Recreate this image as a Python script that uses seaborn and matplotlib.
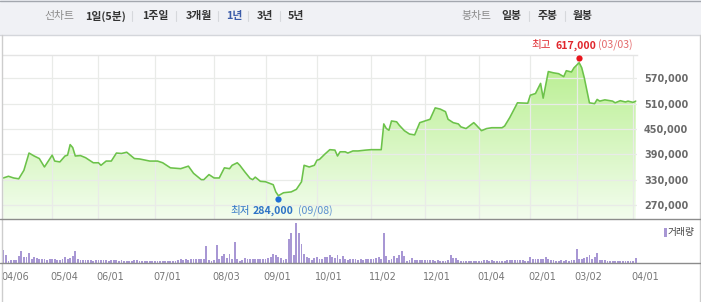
import numpy as np
import matplotlib
matplotlib.use("Agg")
import matplotlib.pyplot as plt
import seaborn as sns
from matplotlib.colors import LinearSegmentedColormap
from matplotlib.patches import Rectangle

# ---------------- data ----------------
# trading-day index -> closing price (KRW)
price_day = [0, 2, 4, 6, 8, 10, 12, 14, 16, 19, 20, 22, 24, 25, 26, 27, 28, 30, 32, 35,
             37, 38, 40, 42, 44, 46, 48, 51, 53, 57, 60, 62, 64, 65, 69, 72, 74, 77, 78, 80,
             82, 84, 86, 88, 89, 91, 92, 94, 96, 97, 98, 100, 102, 105, 106, 107, 109, 112, 114, 116,
             117, 119, 121, 122, 123, 125, 127, 129, 130, 131, 133, 134, 136, 138, 141, 143, 147, 148, 149, 150,
             151, 153, 154, 156, 158, 160, 162, 164, 166, 168, 170, 172, 173, 175, 177, 178, 180, 183, 184, 186,
             188, 190, 194, 195, 197, 200, 204, 205, 207, 209, 210, 212, 214, 216, 218, 219, 221, 222, 224, 225,
             226, 228, 230, 231, 232, 234, 237, 238, 240, 242, 243, 245, 246]
price_val = [334000, 338000, 334000, 332000, 352000, 393000, 386000, 380000, 360000, 388000,
             374000, 372000, 386000, 388000, 413000, 406000, 386000, 387000, 382000, 370000,
             370000, 364000, 374000, 374000, 393000, 392000, 395000, 380000, 379000, 374000,
             374000, 370000, 362000, 358000, 356000, 362000, 345000, 330000, 330000, 342000,
             334000, 334000, 358000, 356000, 364000, 370000, 364000, 348000, 333000, 330000,
             336000, 326000, 325000, 318000, 301000, 292000, 299000, 301000, 307000, 325000,
             364000, 360000, 364000, 376000, 378000, 390000, 401000, 400000, 386000, 396000,
             396000, 393000, 398000, 398000, 400000, 401000, 401000, 462000, 451000, 447000,
             469000, 467000, 459000, 446000, 438000, 436000, 465000, 469000, 473000, 500000,
             497000, 491000, 473000, 465000, 462000, 455000, 451000, 465000, 459000, 446000,
             451000, 453000, 453000, 457000, 477000, 512000, 511000, 530000, 534000, 558000,
             523000, 586000, 583000, 581000, 574000, 588000, 585000, 595000, 607000, 595000,
             571000, 512000, 510000, 520000, 516000, 519000, 516000, 512000, 517000, 514000,
             516000, 513000, 516000]

# daily trading volume (relative units), one value per trading day 0..246
volumes = [13, 8, 2.5, 3.3, 3, 3.3, 6.7, 11.7, 5.7, 5.7,
           10, 4, 5.7, 5, 4, 4, 4.3, 3.3, 4.3, 4,
           4.5, 3.3, 3.5, 4, 5.7, 4.5, 5, 6.7, 12.3, 4.5,
           3.5, 3, 3.5, 3, 3.3, 2.5, 3, 3.5, 3, 2.7,
           3, 2.5, 3, 3.5, 3, 2.5, 3, 2.5, 2.3, 2.5,
           2.5, 3.3, 3.3, 2.5, 2, 2, 2.3, 2, 2.3, 2,
           2, 2.3, 2, 2.5, 2, 2.3, 2, 2.5, 3, 4.3,
           3, 4, 3.5, 4, 4.3, 4, 4.5, 4, 4, 17.3,
           3.5, 2.5, 3, 17.7, 4, 6.7, 9, 5, 9, 4,
           20.7, 4, 2.3, 3, 5, 4.5, 4.5, 4.5, 4.5, 4.5,
           4, 4, 4.5, 5, 6, 9, 7.7, 5.7, 5, 3.3,
           4, 24.3, 30, 8.3, 40, 30, 19, 9, 5.7, 5,
           3.3, 5, 5.7, 4.5, 4, 5.7, 6.5, 7.7, 5.7, 5,
           8.3, 4, 6.7, 4, 3.3, 4, 4.5, 4, 3.5, 4,
           3.5, 4, 4.5, 4, 4, 5, 5.7, 4, 30, 6.7,
           3.3, 4, 6.7, 5, 8.3, 12.3, 6.7, 2.3, 3, 5,
           3.3, 3.3, 3, 3, 2.7, 2.7, 2.7, 2.7, 2.3, 2.7,
           2.5, 1.7, 2.3, 3, 7.7, 5, 5, 3, 2.3, 2,
           1.7, 1.7, 2, 1.7, 1.7, 2, 2.3, 3.3, 2.7, 2,
           2.7, 2, 2, 1.7, 2, 2.3, 2.7, 2.7, 3, 2.7,
           2.7, 3, 2.7, 2.3, 2, 6, 4, 4.3, 4, 4.5,
           4.3, 6, 4, 3.3, 2.7, 2.3, 2.3, 2.7, 2.3, 2.7,
           2.3, 3.3, 3, 14, 4, 4, 5, 5.7, 8.3, 4.3,
           5.7, 10, 3.3, 3, 2.7, 2.5, 2.3, 2.3, 2, 1.7,
           1.7, 2, 1.7, 1.7, 2, 2, 5]
vol_day = list(range(len(volumes)))

date_labels = ["04/06", "05/04", "06/01", "07/01", "08/03", "09/01", "10/01",
               "11/02", "12/01", "01/04", "02/01", "03/02", "04/01"]
date_pos = [0, 19, 37, 59, 82, 102, 122, 143, 164, 185, 205, 223, 245]
price_ticks = [270000, 330000, 390000, 450000, 510000, 570000]

high_day, high_val, high_date = 224, 617000, "(03/03)"
low_day, low_val, low_date = 107, 284000, "(09/08)"

left_menu = ["1일(5분)", "1주일", "3개월", "1년", "3년", "5년"]
right_menu = ["일봉", "주봉", "월봉"]

# ---------------- style ----------------
sns.set_theme(style="white")
plt.rcParams["font.family"] = ["DejaVu Sans"]
KR = ["Noto Sans CJK KR", "DejaVu Sans"]

LINE = "#6cc24a"
GRID = "#e9ebe8"
VOL = "#a897d4"
W, H = 701, 302

fig = plt.figure(figsize=(W / 100, H / 100), dpi=100)
fig.patch.set_facecolor("white")


def fx(px):
    return px / W


def fy(py):
    return 1 - py / H


X0, X1 = 3, 637
XLIM = (-0.12, 246.5)
YLIM = (236800, 625200)

# ---------------- price panel ----------------
axp = fig.add_axes([fx(X0), fy(219), (X1 - X0) / W, (219 - 55) / H])
axp.set_facecolor("white")
sns.lineplot(x=price_day, y=price_val, ax=axp, color=LINE, linewidth=1.15, zorder=4)
poly = axp.fill_between(price_day, price_val, YLIM[0], facecolor="none", edgecolor="none")
cmap = LinearSegmentedColormap.from_list("g", ["#f3fdee", "#b6ee8c"])
grad = np.linspace(1, 0, 256).reshape(-1, 1)
im = axp.imshow(grad, extent=[XLIM[0], XLIM[1], YLIM[0], YLIM[1]], aspect="auto",
                cmap=cmap, origin="upper", zorder=1, interpolation="bilinear")
im.set_clip_path(poly.get_paths()[0], transform=axp.transData)

for p in price_ticks:
    axp.axhline(p, color=GRID, lw=0.9, zorder=2)
for d in date_pos[1:]:
    axp.axvline(d, color=GRID, lw=0.9, zorder=2)

axp.set_xlim(*XLIM)
axp.set_ylim(*YLIM)
axp.set_xticks([])
axp.set_yticks(price_ticks)
axp.set_yticklabels([f"{p:,}" for p in price_ticks])
axp.yaxis.tick_right()
axp.tick_params(axis="y", length=0, pad=5, labelsize=7, labelcolor="#6b6b6b")
for t in axp.get_yticklabels():
    t.set_fontweight("bold")
axp.set_xlabel("")
axp.set_ylabel("")
for s in ["left", "right", "bottom"]:
    axp.spines[s].set_visible(False)
axp.spines["top"].set_color("#e4e4e4")
axp.spines["top"].set_linewidth(1)

# high / low markers
axp.scatter([high_day], [high_val], s=20, color="#e8141c", zorder=6, clip_on=False, linewidths=0)
axp.scatter([low_day], [low_val], s=20, color="#1f6fd6", zorder=6, clip_on=False, linewidths=0)
akw = dict(textcoords="offset pixels", va="center", fontsize=7.6, family=KR, annotation_clip=False)
axp.annotate("최고", xy=(high_day, high_val), xytext=(-28, 13), ha="right", color="#e0262c", **akw)
axp.annotate(f"{high_val:,}", xy=(high_day, high_val), xytext=(17, 13), ha="right",
             color="#e0262c", fontweight="bold", **akw)
axp.annotate(high_date, xy=(high_day, high_val), xytext=(19, 13), ha="left", color="#e46a6c", **akw)
axp.annotate("최저", xy=(low_day, low_val), xytext=(-28, -12), ha="right", color="#2d73c6", **akw)
axp.annotate(f"{low_val:,}", xy=(low_day, low_val), xytext=(15, -12), ha="right",
             color="#2d73c6", fontweight="bold", **akw)
axp.annotate(low_date, xy=(low_day, low_val), xytext=(20, -12), ha="left", color="#5b8fd0", **akw)

# ---------------- volume panel ----------------
axv = fig.add_axes([fx(X0), fy(263), (X1 - X0) / W, (263 - 220) / H])
axv.set_facecolor("white")
sns.barplot(x=vol_day, y=volumes, native_scale=True, ax=axv, color=VOL, saturation=1,
            width=0.72, errorbar=None, linewidth=0)
axv.set_xlim(*XLIM)
axv.set_ylim(0, 43)
axv.set_yticks([])
axv.set_xticks(date_pos)
axv.set_xticklabels([])
axv.tick_params(axis="x", length=5, width=0.8, color="#8a8a8a", direction="out", pad=0)
axv.set_xlabel("")
axv.set_ylabel("")
for s in axv.spines.values():
    s.set_visible(False)
for lab, d in zip(date_labels, date_pos):
    axv.annotate(lab, xy=(d, 0), xycoords=("data", "axes fraction"), xytext=(-2, -14),
                 textcoords="offset pixels", ha="left", va="center", fontsize=7,
                 color="#777777", annotation_clip=False)

# ---------------- frame, toolbar, legend ----------------
ov = fig.add_axes([0, 0, 1, 1])
ov.set_xlim(0, W)
ov.set_ylim(H, 0)
ov.axis("off")
ov.patch.set_visible(False)
ov.set_zorder(10)
ov.add_patch(Rectangle((0, 0), W, 35, facecolor="#f0f1f5", edgecolor="none"))
ov.plot([0, W], [0.5, 0.5], color="#a3a7ae", lw=1)
ov.plot([0, W], [35, 35], color="#d4d6db", lw=1)
ov.plot([1.5, 1.5], [35, H], color="#cdcdcd", lw=1)
ov.plot([699.5, 699.5], [35, H], color="#cdcdcd", lw=1)
ov.plot([0, W], [219, 219], color="#8c8c8c", lw=1)
ov.plot([0, W], [263, 263], color="#8c8c8c", lw=1)

tkw = dict(ha="center", va="center", fontsize=7.8, family=KR)
ov.text(59, 16, "선차트", color="#8a8a8a", **tkw)
left_x = [106, 155, 198.5, 234, 264.5, 295.5]
for lab, x in zip(left_menu, left_x):
    ov.text(x, 16, lab, color="#3a5aa8" if lab == "1년" else "#333333", fontweight="bold", **tkw)
for x in [132, 176, 218, 248, 280]:
    ov.plot([x, x], [11, 21], color="#d6d8dc", lw=0.8)
ov.text(476, 16, "봉차트", color="#8a8a8a", **tkw)
for lab, x in zip(right_menu, [511.5, 547.5, 583]):
    ov.text(x, 16, lab, color="#333333", fontweight="bold", **tkw)
for x in [529, 565]:
    ov.plot([x, x], [11, 21], color="#d6d8dc", lw=0.8)

ov.add_patch(Rectangle((664, 228), 3, 9, facecolor=VOL, edgecolor="none"))
ov.text(668, 232.5, "거래량", color="#444444", fontsize=7, va="center", ha="left", family=KR)

fig.savefig("out.png", dpi=100, facecolor="white")
